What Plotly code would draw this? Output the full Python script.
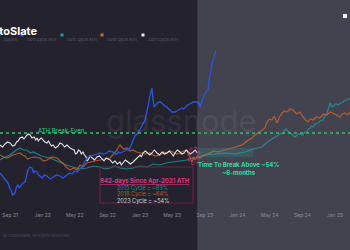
import plotly.graph_objects as go

# x = days since the Apr-2021 ATH, y = price as % of ATH
blue_days = [102,110,117,125,132,138,143,150,158,164,170,175,181,188,196,201,207,214,222,228,
             233,241,246,252,260,268,278,290,301,314,327,340,353,362,372,382,391,400,410,416,
             421,427,432,444,455,466,477,489,500,512,526,534,541,546,552,561,571,577,582,588,
             593,597,601,608,616,621,627,632,638,642,646,652,657,661,665,669,672,676,680,686,
             691,697,702,708,713,720,728,734,740,746,751,758,764,770,778,785,790,796,802,807,
             813,818,822,826,834,841,845,848,852,856,860,866,871,875,878,882,886,890,894,897,
             901,905,908,912]
blue_vals = [60,57,55,52,50,45,43,38,40,46,48,45,47,50,51,56,63,66,65,60,
             62,61,58,57,55,58,57,54,56,58,57,55,58,60,59,62,61,64,66,70,
             72,74,76,77,78,79,80,79,80,82,81,79,79,81,80,81,82,84,83,85,
             87,90,93,97,99,101,103,106,109,111,113,120,128,134,138,142,145,133,126,128,
             129,131,131,130,129,127,126,124,123,121,121,121,122,123,124,125,124,126,127,128,
             129,130,131,131,131,131,129,131,126,130,133,137,140,141,142,143,153,160,165,168,
             173,177,180,183]

white_days = [102,111,121,130,140,149,158,164,170,177,185,192,200,207,215,222,230,236,241,246,
              252,257,263,270,278,284,290,295,301,310,320,327,335,344,353,359,365,372,380,385,
              391,396,402,407,413,419,425,428,432,440,447,456,466,475,485,492,500,507,515,524,
              533,542,552,557,563,572,582,591,601,608,616,621,627,632,638,647,657,664,672,681,
              691,700,710,719,728,737,747,752,758,767,777,784,792,800,807,816,826,834,842]
white_vals = [88,86,89,91,90,87,88,91,92,95,96,94,97,99,98,95,96,93,95,92,
              94,95,93,91,90,92,89,87,88,85,87,90,89,86,88,86,85,84,83,79,
              80,83,82,79,81,78,76,72,73,77,75,73,76,77,74,72,75,74,73,70,
              72,69,71,68,70,73,71,69,71,73,75,77,78,76,80,82,79,78,80,83,
              80,78,81,79,80,82,79,77,80,83,81,79,80,83,81,79,81,83,80]

orange_days = [102,115,128,140,151,164,177,186,196,205,215,233,252,265,278,297,316,327,338,350,
               365,378,391,402,413,427,440,458,477,496,515,528,541,546,552,565,578,590,601,614,
               627,646,665,683,702,715,728,740,751,764,777,790,803,812,822,828,833,843,852,862,
               871,880,890,905,920,946,972,991,1010,1028,1047,1058,1070,1083,1096,1100,1103,1112,1122,1131,
               1141,1150,1160,1169,1178,1190,1201,1214,1227,1232,1238,1248,1257,1266,1276,1289,1302,1315,1328,1340,
               1351,1364,1377,1386,1396,1405,1415,1433]
orange_vals = [78,76,75,77,78,79,80,78,77,74,75,76,75,72,73,76,75,72,70,66,
               63,65,63,68,66,70,71,72,73,74,75,79,83,86,88,84,85,82,83,81,
               80,79,80,77,78,81,80,82,81,79,80,82,83,78,71,76,73,77,75,77,
               78,79,80,82,81,83,85,86,88,92,95,98,100,103,105,109,110,114,113,117,
               110,116,120,122,121,124,123,119,121,118,116,113,111,114,113,116,115,119,118,121,
               120,118,116,119,120,118,121,123]

teal_days = [102,121,140,158,177,190,203,215,226,258,290,308,327,350,376,402,428,452,477,496,
             515,533,552,576,601,627,653,677,702,726,751,777,803,822,841,856,871,908,946,984,
             1021,1053,1085,1100,1115,1128,1141,1152,1163,1172,1182,1195,1208,1223,1238,1245,1253,1259,1265,1270,
             1276,1285,1295,1304,1313,1320,1328,1334,1340,1345,1351,1360,1370,1379,1388,1395,1403,1409,1415,1433]
teal_vals = [73,76,78,82,85,83,83,80,81,77,75,73,71,68,66,64,65,67,66,64,
             65,67,65,64,65,67,66,69,68,70,71,72,73,75,75,77,78,79,80,79,
             81,84,86,90,93,95,97,99,100,104,102,99,96,99,98,101,101,104,105,107,
             106,109,110,112,113,117,120,125,130,127,126,129,128,130,131,133,133,134,135,137]

tick_days = [140,262,382,505,627,747,870,992,1113,1236,1358]
tick_labels = ["Sep 21","Jan 22","May 22","Sep 22","Jan 23","May 23","Sep 23","Jan 24","May 24","Sep 24","Jan 25"]

x_range = [102, 1414.5]
y_range = [28, 188]
ath_level = 100
days_since_ath = 842

legend_names = ["2011 Cycle ATH", "2015 Cycle ATH", "2018 Cycle ATH", "2021 Cycle ATH"]
legend_colors = ["#2f55e0", "#1e9aa6", "#d0682e", "#e6e6e6"]

fig = go.Figure()
fig.add_trace(go.Scatter(x=teal_days, y=teal_vals, mode="lines",
                         line=dict(color="#22a3b0", width=1.2), opacity=0.7))
fig.add_trace(go.Scatter(x=orange_days, y=orange_vals, mode="lines",
                         line=dict(color="#d8692c", width=1.2), opacity=0.75))
fig.add_trace(go.Scatter(x=white_days, y=white_vals, mode="lines",
                         line=dict(color="#e4e4e8", width=1.1)))
fig.add_trace(go.Scatter(x=blue_days, y=blue_vals, mode="lines",
                         line=dict(color="#2f55e0", width=1.3)))

shade_x0 = (days_since_ath - x_range[0]) / (x_range[1] - x_range[0])
shapes = [
    dict(type="rect", xref="paper", yref="paper", x0=shade_x0, x1=1.05, y0=-1, y1=2,
         fillcolor="#43424f", line=dict(width=0), layer="below"),
    dict(type="line", xref="paper", yref="y", x0=0, x1=1, y0=ath_level, y1=ath_level,
         line=dict(color="#22c76b", width=1.6, dash="dot")),
    dict(type="rect", xref="x", yref="y", x0=477, x1=826, y0=30, y1=66,
         line=dict(color="#6a2445", width=1)),
    dict(type="rect", xref="x", yref="y", x0=844, x1=1051, y0=76, y1=85,
         fillcolor="rgba(50,190,170,0.16)", line=dict(width=0)),
    dict(type="circle", xref="x", yref="y", x0=807, x1=852, y0=68, y1=86,
         fillcolor="rgba(200,60,120,0.18)", line=dict(color="#c0407a", width=1, dash="dot")),
    dict(type="rect", xref="paper", yref="paper", x0=343/350, x1=347/350,
         y0=(205-18)/160, y1=(205-14)/160, fillcolor="#f0f0f0", line=dict(width=0)),
]
legend_dot_px = [22, 62, 102, 143]
for px, col in zip(legend_dot_px, legend_colors):
    shapes.append(dict(type="rect", xref="paper", yref="paper",
                       x0=(px - 1.5) / 350, x1=(px + 1.5) / 350,
                       y0=(205 - 36.5) / 160, y1=(205 - 33.5) / 160,
                       fillcolor=col, line=dict(width=0)))

ann = [
    dict(text="glassnode", x=784, y=113, xref="x", yref="y", showarrow=False,
         font=dict(size=31, color="rgba(255,255,255,0.08)", family="Inter")),
    dict(text="CryptoSlate", x=40/350, y=(205-22)/160, xref="paper", yref="paper",
         xanchor="right", showarrow=False,
         font=dict(size=11, color="#ffffff", family="Inter", weight="bold")),
    dict(text="ATH Break-Even", x=334, y=103, xref="x", yref="y", showarrow=False,
         font=dict(size=6, color="#2fd17a", family="Inter")),
    dict(text="<u>842-days Since Apr-2021 ATH</u>", x=646, y=52, xref="x", yref="y",
         showarrow=False, font=dict(size=6, color="#e0357f", family="Inter", weight="bold")),
    dict(text="2015 Cycle = ~83%", x=638, y=45, xref="x", yref="y", showarrow=False,
         font=dict(size=5.5, color="#1f8f95", family="Inter")),
    dict(text="2018 Cycle = ~64%", x=638, y=39, xref="x", yref="y", showarrow=False,
         font=dict(size=5.5, color="#b45a2a", family="Inter")),
    dict(text="2023 Cycle = ~54%", x=638, y=32.5, xref="x", yref="y", showarrow=False,
         font=dict(size=5.5, color="#cfcfd4", family="Inter")),
    dict(text="Time To Break Above ~54%<br>~6-months", x=995, y=65, xref="x", yref="y",
         showarrow=False, font=dict(size=6, color="#36dca0", family="Inter", weight="bold")),
    dict(text="© CryptoSlate. All Rights Reserved", x=0.003, y=(205-240)/160, xref="paper",
         yref="paper", xanchor="left", showarrow=False,
         font=dict(size=4, color="#4e4d5c", family="Inter")),
    dict(text="Cycles", x=19/350, y=(205-35)/160, xref="paper", yref="paper",
         xanchor="right", showarrow=False, font=dict(size=4, color="#5e5d70", family="Inter")),
]
for px, name in zip(legend_dot_px, legend_names):
    ann.append(dict(text=name, x=(px + 3) / 350, y=(205 - 35) / 160, xref="paper", yref="paper",
                    xanchor="left", showarrow=False,
                    font=dict(size=4, color="#5e5d70", family="Inter")))

fig.update_layout(
    width=350, height=250,
    margin=dict(l=0, r=0, t=45, b=45),
    paper_bgcolor="#24232d", plot_bgcolor="rgba(0,0,0,0)",
    showlegend=False,
    shapes=shapes, annotations=ann,
    xaxis=dict(range=x_range, tickvals=tick_days, ticktext=tick_labels,
               showgrid=False, zeroline=False, showline=False, ticks="",
               ticklabelstandoff=6,
               tickfont=dict(size=5, color="#8d8c99", family="Inter")),
    yaxis=dict(range=y_range, visible=False, showgrid=False, zeroline=False),
)
fig.write_html("out.html")
